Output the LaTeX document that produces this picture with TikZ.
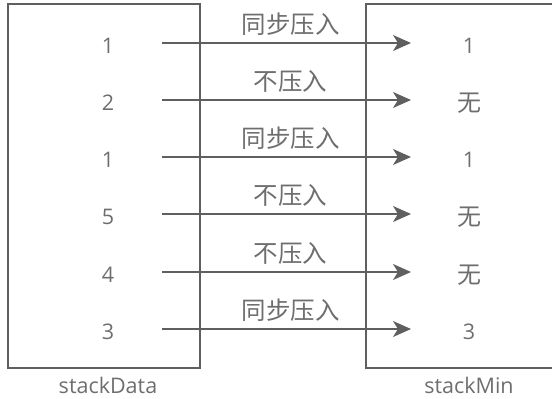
\documentclass[tikz,border=0pt]{standalone}
\usepackage{fontspec}
\setmainfont{Open Sans}
\newfontfamily\cjk{Noto Sans CJK SC}
\usetikzlibrary{arrows.meta}
\definecolor{linegray}{RGB}{95,95,95}
\definecolor{textgray}{RGB}{110,110,110}
\begin{document}
\begin{tikzpicture}[x=1pt,y=-1pt,
  box/.style={draw=linegray,line width=1.3pt},
  val/.style={text=textgray,font=\fontsize{21.5}{24}\selectfont,inner sep=0pt},
  lbl/.style={text=textgray,font=\fontsize{24.5}{26}\selectfont\cjk,inner sep=0pt},
  arr/.style={draw=linegray,line width=1.3pt,-{Stealth[length=18pt,width=16pt,inset=5pt]}}]
\useasboundingbox (0,0) rectangle (552,399);
\draw[box] (8,4) rectangle (200,368);
\draw[box] (552,4) -- (366,4) -- (366,368) -- (552,368);
\node[val] at (108,385) {stackData};
\node[val] at (469,385) {stackMin};
\foreach \i/\y/\a/\b/\l in {1/43/1/1/同步压入, 2/100/2/{\fontsize{24}{26}\selectfont\cjk 无}/不压入, 3/157/1/1/同步压入, 4/214/5/{\fontsize{24}{26}\selectfont\cjk 无}/不压入, 5/272/4/{\fontsize{24}{26}\selectfont\cjk 无}/不压入, 6/329/3/3/同步压入}{
  \node[val] (s\i) at (108,\y+3) {\a};
  \node[val] (m\i) at (469,\y+3) {\b};
  \coordinate (p\i) at (162,\y);
  \coordinate (q\i) at (411,\y);
  \draw[arr] (p\i) -- (q\i) node[lbl,midway,above=7pt, xshift=4pt] (t\i) {\l};
}
\end{tikzpicture}
\end{document}
